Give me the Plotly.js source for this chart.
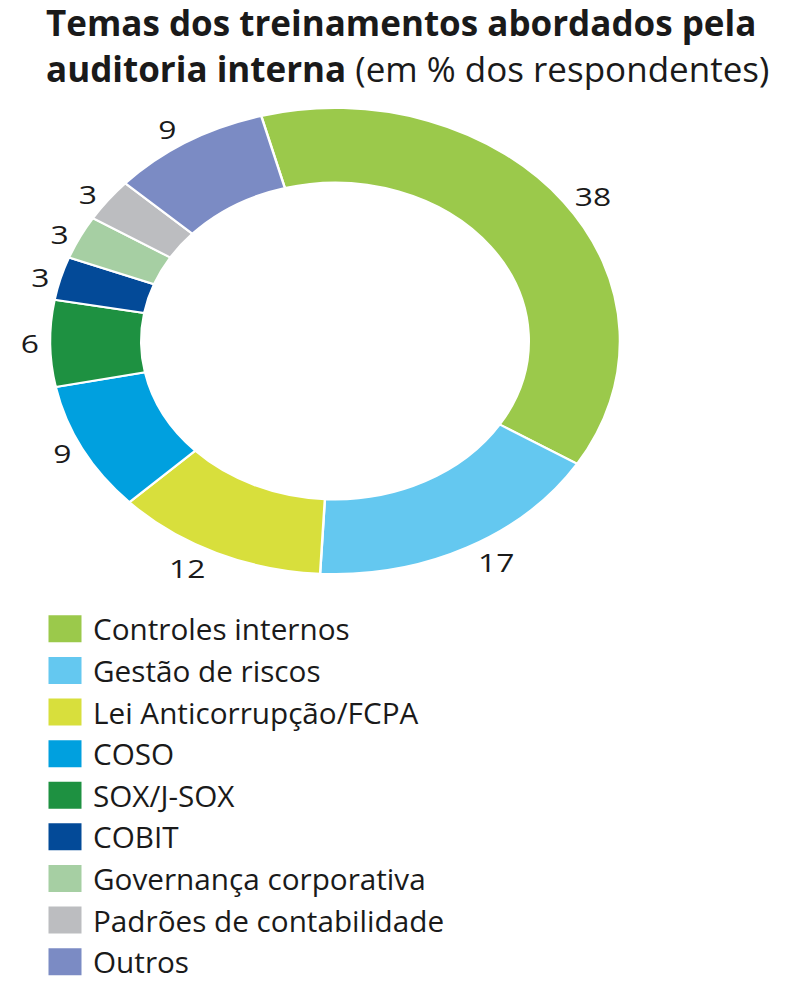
<!DOCTYPE html>
<html>
<head>
<meta charset="utf-8">
<script src="https://cdn.plot.ly/plotly-3.0.1.min.js"></script>
<style>
    body { margin: 0; background: #fff; }
    /* the original donut is drawn as an ellipse, so stretch the pie sideways */
    .pielayer { transform: scaleX(1.223); transform-origin: 335px 341px; }
    /* bigger square swatches in the legend */
    .legendpie { transform: translate(28px, 0) scale(2.75, 2.25); stroke-width: 0 !important; }
</style>
</head>
<body>
<div id="graph"></div>
<script>
var temas = [
    "Controles internos",
    "Gestão de riscos",
    "Lei Anticorrupção/FCPA",
    "COSO",
    "SOX/J-SOX",
    "COBIT",
    "Governança corporativa",
    "Padrões de contabilidade",
    "Outros"
];
var percentuais = [38, 17, 12, 9, 6, 3, 3, 3, 9];
var cores = ["#9bc94b", "#64c8f0", "#d8df3c", "#00a0df", "#1e9141",
             "#034a98", "#a6cfa3", "#bcbdc0", "#7b8bc4"];

function drawGraph() {
    var W = 799, H = 996;
    var cx = 335, cy = 341, r = 233;   // centre and radius of the donut, px

    var trace = {
        type: "pie",
        labels: temas,
        values: percentuais,
        sort: false,
        direction: "clockwise",
        rotation: -15,
        hole: 0.68,
        marker: { colors: cores, line: { color: "#ffffff", width: 2 } },
        textinfo: "value",
        textposition: "outside",
        outsidetextfont: { family: "Open Sans", size: 26, color: "#1a1a1a" },
        hoverinfo: "label+value",
        domain: {
            x: [(cx - r) / W, (cx + r) / W],
            y: [(H - cy - r) / H, (H - cy + r) / H]
        }
    };

    var layout = {
        width: W,
        height: H,
        margin: { l: 0, r: 0, t: 0, b: 0 },
        paper_bgcolor: "#ffffff",
        font: { family: "Open Sans", color: "#1a1a1a" },
        title: {
            text: "<b>Temas dos treinamentos abordados pela</b><br><b>auditoria interna</b> (em % dos respondentes)",
            font: { family: "Open Sans", size: 35, color: "#1a1a1a" },
            xref: "container", x: 46 / W, xanchor: "left",
            yref: "container", y: 1 - 36 / H, yanchor: "top"
        },
        showlegend: true,
        legend: {
            x: 37 / W, xanchor: "left",
            y: 1 - 603 / H, yanchor: "top",
            itemwidth: 46,
            font: { family: "Open Sans", size: 29.7, color: "#1a1a1a" },
            bgcolor: "rgba(0,0,0,0)"
        }
    };

    Plotly.newPlot("graph", [trace], layout, { displayModeBar: false });
}

drawGraph();
</script>
</body>
</html>
